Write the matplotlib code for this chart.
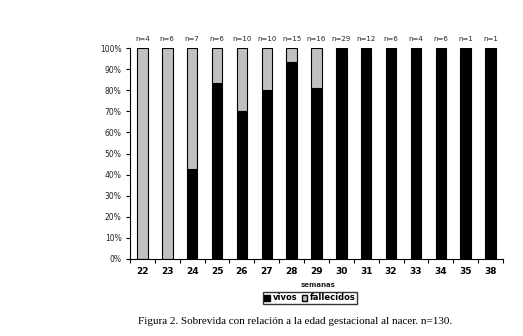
import numpy as np
import matplotlib
matplotlib.use("Agg")
from matplotlib import pyplot as plt
from matplotlib.patches import Patch
from matplotlib.ticker import PercentFormatter

# survival by gestational age (weeks)
semanas = ["22", "23", "24", "25", "26", "27", "28", "29", "30", "31", "32", "33", "34", "35", "38"]
total = [4, 6, 7, 6, 10, 10, 15, 16, 29, 12, 6, 4, 6, 1, 1]
vivos = [0, 0, 3, 5, 7, 8, 14, 13, 29, 12, 6, 4, 6, 1, 1]

total = np.array(total)
vivos = np.array(vivos)
pctVivos = 100 * vivos / total
pctFallecidos = 100 - pctVivos

fig = plt.figure(figsize=(5.23, 3.36), dpi=100)
ax = fig.add_axes([130/523, 1 - 259/336, 373/523, 211/336])

x = np.arange(len(semanas))
barW = 0.42
ax.bar(x, pctVivos, width=barW, color="black", edgecolor="black", linewidth=0.8)
ax.bar(x, pctFallecidos, width=barW, bottom=pctVivos, color="#c0c0c0", edgecolor="black", linewidth=0.8)

for xi, n in zip(x, total):
    ax.text(xi, 103, f"n={n}", ha="center", va="bottom", fontsize=5, color="#222222")

ax.set_xlim(-0.5, len(semanas) - 0.5)
ax.set_ylim(0, 100)
ax.set_yticks(np.arange(0, 101, 10))
ax.yaxis.set_major_formatter(PercentFormatter(decimals=0))
ax.set_xticks(x)
ax.set_xticklabels(semanas, fontsize=6.5, fontweight="bold")
ax.set_xticks(np.arange(-0.5, len(semanas), 1), minor=True)
ax.tick_params(axis="x", which="major", length=0, pad=6)
ax.tick_params(axis="x", which="minor", length=3, width=0.8, direction="out")
ax.tick_params(axis="y", labelsize=5.5, length=3, width=0.8, pad=3)
for lbl in ax.get_yticklabels():
    lbl.set_color("#222222")

ax.spines["top"].set_visible(False)
ax.spines["right"].set_visible(False)
ax.spines["left"].set_linewidth(0.8)
ax.spines["bottom"].set_linewidth(0.8)

fig.text(318/523, 1 - 285/336, "semanas", ha="center", va="center", fontsize=5, fontweight="bold", color="#222222")

legend_elements = [
    Patch(facecolor="black", edgecolor="black", label="vivos"),
    Patch(facecolor="#c0c0c0", edgecolor="black", label="fallecidos"),
]
fig.legend(handles=legend_elements, loc="center", bbox_to_anchor=(310/523, 1 - 298/336), ncol=2,
           prop={"weight": "bold", "size": 6}, frameon=True, fancybox=False, edgecolor="black",
           handlelength=0.7, handleheight=0.7, handletextpad=0.3, columnspacing=0.5, borderpad=0.2,
           borderaxespad=0)

fig.text(295/523, 1 - 322/336, "Figura 2. Sobrevida con relación a la edad gestacional al nacer. n=130.",
         ha="center", va="center", fontsize=8, family="Liberation Serif")

fig.savefig("out.png", dpi=100)
